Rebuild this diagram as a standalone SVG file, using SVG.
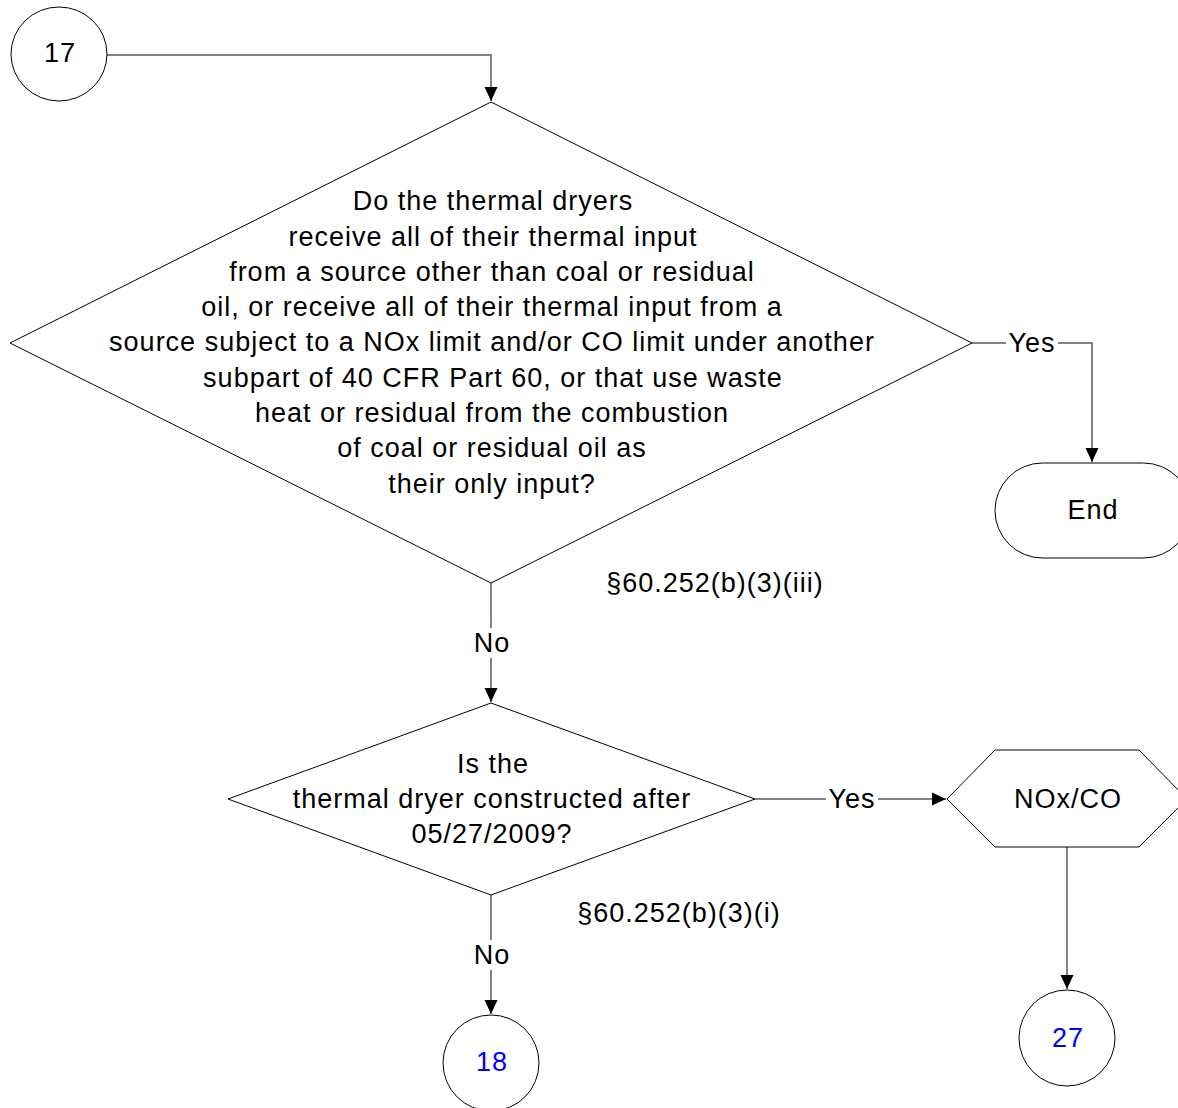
<svg xmlns="http://www.w3.org/2000/svg" width="1178" height="1108" viewBox="0 0 1178 1108">
<style>
text{font-family:"Liberation Sans",Arial,sans-serif;font-size:27px;letter-spacing:1px;fill:#000;text-anchor:middle;dominant-baseline:central}
.shape{fill:#fff;stroke:#000;stroke-width:1}
.conn{fill:none;stroke:#5a5a5a;stroke-width:1.5}
.blue{fill:#0000ff}
.lbl{fill:#fff;stroke:none}
</style>
<defs>
<marker id="arr" viewBox="0 0 14 14" refX="14" refY="7" markerWidth="14" markerHeight="14" markerUnits="userSpaceOnUse" orient="auto">
<path d="M0,0.5 L14,7 L0,13.5 Z" fill="#000"/>
</marker>
</defs>
<rect width="1178" height="1108" fill="#fff"/>
<g id="connectors">
<path class="conn" d="M107,55 H491 V101" marker-end="url(#arr)"/>
<path class="conn" d="M972,343 H1092 V462" marker-end="url(#arr)"/>
<path class="conn" d="M491,583 V702" marker-end="url(#arr)"/>
<path class="conn" d="M755,799 H946" marker-end="url(#arr)"/>
<path class="conn" d="M491,895 V1014" marker-end="url(#arr)"/>
<path class="conn" d="M1067,847 V989" marker-end="url(#arr)"/>
<rect class="lbl" x="1006" y="330" width="52" height="26"/>
<text x="1032" y="343">Yes</text>
<rect class="lbl" x="471" y="628" width="42" height="30"/>
<text x="492" y="643">No</text>
<rect class="lbl" x="826" y="786" width="52" height="26"/>
<text x="852" y="799">Yes</text>
<rect class="lbl" x="471" y="940" width="42" height="30"/>
<text x="492" y="955">No</text>
<text x="715" y="583">§60.252(b)(3)(iii)</text>
<text x="679" y="913">§60.252(b)(3)(i)</text>
</g>
<g id="n17">
<ellipse class="shape" cx="59" cy="54" rx="48" ry="47"/>
<text x="60" y="53">17</text>
</g>
<g id="q1">
<polygon class="shape" points="491,102 972,343 491,583 10,343"/>
<text x="493" y="201">Do the thermal dryers</text>
<text x="493" y="237">receive all of their thermal input</text>
<text x="492" y="272">from a source other than coal or residual</text>
<text x="492" y="307">oil, or receive all of their thermal input from a</text>
<text x="492" y="342">source subject to a NOx limit and/or CO limit under another</text>
<text x="493" y="378">subpart of 40 CFR Part 60, or that use waste</text>
<text x="492" y="413">heat or residual from the combustion</text>
<text x="492" y="448">of coal or residual oil as</text>
<text x="492" y="484">their only input?</text>
</g>
<g id="end">
<rect class="shape" x="995" y="463" width="196" height="95" rx="47.5" ry="47.5"/>
<text x="1093" y="510">End</text>
</g>
<g id="q2">
<polygon class="shape" points="491,703 755,799 491,895 228,799"/>
<text x="493" y="764">Is the</text>
<text x="492" y="799">thermal dryer constructed after</text>
<text x="492" y="834">05/27/2009?</text>
</g>
<g id="noxco">
<polygon class="shape" points="947,799 995,750 1139,750 1187,799 1139,847 995,847"/>
<text x="1068" y="799">NOx/CO</text>
</g>
<g id="n27">
<ellipse class="shape" cx="1067" cy="1038" rx="48" ry="48"/>
<text class="blue" x="1068" y="1038">27</text>
</g>
<g id="n18">
<ellipse class="shape" cx="491" cy="1063" rx="48" ry="48"/>
<text class="blue" x="492" y="1062">18</text>
</g>
</svg>
